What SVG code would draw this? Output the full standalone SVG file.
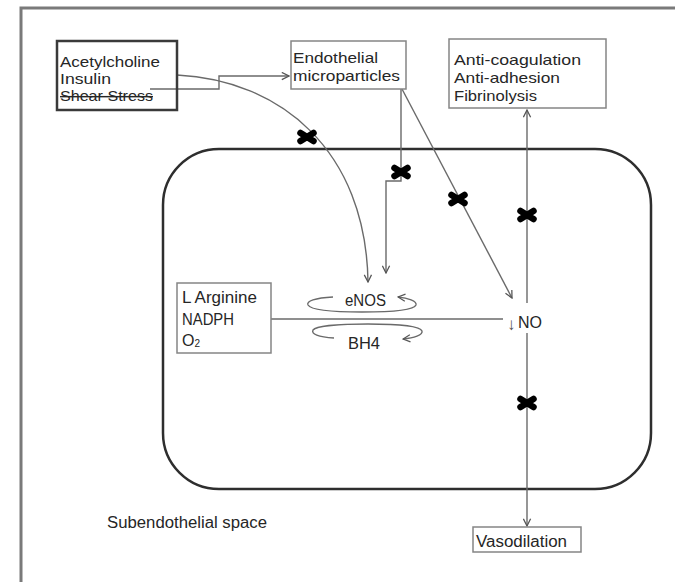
<svg xmlns="http://www.w3.org/2000/svg" width="675" height="582" viewBox="0 0 675 582">
<defs>
<style>
.t{font-family:"Liberation Sans",Arial,sans-serif;font-size:16px;fill:#262626}
.s{font-size:14.5px}
.box{fill:#fff;stroke:#858585;stroke-width:1.5}
.ln{fill:none;stroke:#6a6a6a;stroke-width:1.4}
</style>
<marker id="arr" viewBox="0 0 10 10" refX="9" refY="5" markerWidth="9" markerHeight="9" markerUnits="userSpaceOnUse" orient="auto">
<path d="M1,1 L9,5 L1,9" fill="none" stroke="#555" stroke-width="1.4"/>
</marker>
<g id="x">
<path d="M-6.5,-4 L6.5,4 M-6.5,4 L6.5,-4" stroke="#000" stroke-width="6.5" stroke-linecap="round" fill="none"/>
</g>
</defs>
<rect width="675" height="582" fill="#fff"/>
<path d="M21,582 V8 H675" fill="none" stroke="#7a7a7a" stroke-width="3"/>
<g id="cell">
<rect x="163" y="149" width="488" height="340" rx="56" ry="56" fill="none" stroke="#2e2e2e" stroke-width="2.5"/>
</g>
<g id="connectors">
<path class="ln" d="M150,89 H219 V76 H289" marker-end="url(#arr)"/>
<path class="ln" d="M177,75 C280,80 366,150 368,282" marker-end="url(#arr)"/>
<path class="ln" d="M401,89 V181 H386 V273" marker-end="url(#arr)"/>
<path class="ln" d="M402,89 L512,298" marker-end="url(#arr)"/>
<path class="ln" d="M271,319 H503"/>
<path class="ln" d="M527,303 V110" marker-end="url(#arr)"/>
<path class="ln" d="M527,333 V526" marker-end="url(#arr)"/>
<path class="ln" d="M333,297 C315,298 306,301 308,305 C311,310 335,312 362,312 C390,312 414,310 416,305 C417,301 408,298 398,297" marker-end="url(#arr)"/>
<path class="ln" d="M334,338 C318,337 311,334 313,330 C316,326 340,324 368,324 C396,324 420,326 422,331 C423,335 414,338 403,339" marker-end="url(#arr)"/>
</g>
<g id="blocks">
<use href="#x" x="307" y="137"/>
<use href="#x" x="401" y="172"/>
<use href="#x" x="458" y="199"/>
<use href="#x" x="527" y="215"/>
<use href="#x" x="527" y="403"/>
</g>
<g id="stimuli">
<rect x="57" y="41" width="120" height="69" fill="none" stroke="#3a3a3a" stroke-width="2.5"/>
<text class="t s" x="60" y="67" textLength="100" lengthAdjust="spacingAndGlyphs">Acetylcholine</text>
<text class="t s" x="60" y="84" textLength="51" lengthAdjust="spacingAndGlyphs">Insulin</text>
<text class="t s" x="60" y="101" textLength="93" lengthAdjust="spacingAndGlyphs" text-decoration="line-through">Shear Stress</text>
</g>
<g id="microparticles">
<rect class="box" x="291" y="41" width="115" height="48"/>
<text class="t s" x="293" y="63" textLength="85" lengthAdjust="spacingAndGlyphs">Endothelial</text>
<text class="t s" x="293" y="81" textLength="107" lengthAdjust="spacingAndGlyphs">microparticles</text>
</g>
<g id="effects">
<rect class="box" x="449" y="39" width="157" height="69"/>
<text class="t s" x="454" y="65" textLength="127" lengthAdjust="spacingAndGlyphs">Anti-coagulation</text>
<text class="t s" x="454" y="83" textLength="106" lengthAdjust="spacingAndGlyphs">Anti-adhesion</text>
<text class="t s" x="454" y="101" textLength="83" lengthAdjust="spacingAndGlyphs">Fibrinolysis</text>
</g>
<g id="substrates">
<rect class="box" x="177" y="283" width="94" height="70"/>
<text class="t" x="182" y="303" textLength="75" lengthAdjust="spacingAndGlyphs">L Arginine</text>
<text class="t" x="182" y="325" textLength="52" lengthAdjust="spacingAndGlyphs">NADPH</text>
<text class="t" x="182" y="346">O<tspan font-size="10" dy="1">2</tspan></text>
</g>
<g id="enos">
<text class="t" x="345" y="306" textLength="41" lengthAdjust="spacingAndGlyphs">eNOS</text>
</g>
<g id="bh4">
<text class="t" x="348" y="349" textLength="32" lengthAdjust="spacingAndGlyphs">BH4</text>
</g>
<g id="no">
<text class="t" x="507" y="330"><tspan font-size="17" fill="#555">↓</tspan><tspan x="518" y="328" textLength="24" lengthAdjust="spacingAndGlyphs">NO</tspan></text>
</g>
<g id="subendothelial">
<text class="t" x="107" y="528" textLength="160" lengthAdjust="spacingAndGlyphs">Subendothelial space</text>
</g>
<g id="vasodilation">
<rect class="box" x="473" y="527" width="108" height="25"/>
<text class="t" x="476" y="547" textLength="91" lengthAdjust="spacingAndGlyphs">Vasodilation</text>
</g>
</svg>
